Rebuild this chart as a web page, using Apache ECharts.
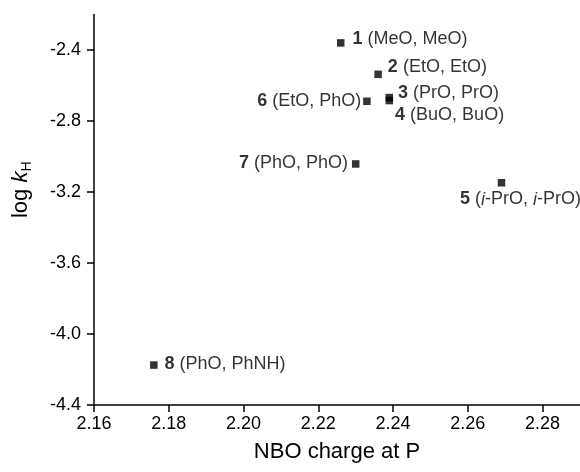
<!DOCTYPE html>
<html>
<head>
<meta charset="utf-8">
<script src="https://cdn.jsdelivr.net/npm/echarts@6/dist/echarts.min.js"></script>
<style>
  html, body { margin: 0; padding: 0; background: #fff; }
  #chart { width: 580px; height: 472px; }
</style>
</head>
<body>
<div id="chart"></div>
<script>
// compound number, substituent pair, NBO charge at P, log kH
var ids = ['1', '2', '3', '4', '5', '6', '7', '8'];
var groups = ['(MeO, MeO)', '(EtO, EtO)', '(PrO, PrO)', '(BuO, BuO)',
              '({i|i}-PrO, {i|i}-PrO)', '(EtO, PhO)', '(PhO, PhO)', '(PhO, PhNH)'];
var nboCharge = [2.226, 2.236, 2.239, 2.239, 2.269, 2.233, 2.230, 2.176];
var logKH = [-2.36, -2.537, -2.668, -2.685, -3.148, -2.689, -3.042, -4.175];

var xTicks = [2.16, 2.18, 2.20, 2.22, 2.24, 2.26, 2.28];
var yTicks = [-4.4, -4.0, -3.6, -3.2, -2.8, -2.4];

// where each label sits next to its point (side, gap, nudge)
var labelPlace = {
    '1': { position: 'right', distance: 8, dx: 0, dy: -4 },
    '2': { position: 'right', distance: 6, dx: 0, dy: -7 },
    '3': { position: 'right', distance: 5, dx: 0, dy: -5 },
    '4': { position: 'right', distance: 2, dx: 0, dy: 14 },
    '5': { position: 'bottom', distance: 4, dx: 19, dy: 0 },
    '6': { position: 'left', distance: 2, dx: 0, dy: 0 },
    '7': { position: 'left', distance: 4, dx: 0, dy: -1 },
    '8': { position: 'right', distance: 7, dx: 0, dy: -1 }
};

var font = 'Liberation Sans, Arial, sans-serif';

var points = ids.map(function (id, i) {
    var p = labelPlace[id];
    return {
        value: [nboCharge[i], logKH[i]],
        label: {
            show: true,
            position: p.position,
            distance: p.distance,
            formatter: '{b|' + id + '} ' + groups[i]
        }
    };
});

var chart = echarts.init(document.getElementById('chart'));

var option = {
    backgroundColor: '#fff',
    animation: false,
    textStyle: { fontFamily: font, color: '#000' },
    grid: { left: 94, right: 0, top: 14.5, bottom: 67 },
    xAxis: {
        type: 'value',
        min: 2.16,
        max: 2.29,
        name: 'NBO charge at P',
        nameLocation: 'middle',
        nameGap: 36,
        nameTextStyle: { fontSize: 22, color: '#000', fontFamily: font },
        axisLine: { show: true, lineStyle: { color: '#000', width: 1.5 } },
        axisTick: { show: true, length: 7, customValues: xTicks, lineStyle: { color: '#000', width: 1.5 } },
        axisLabel: {
            customValues: xTicks,
            margin: 10,
            fontSize: 18,
            color: '#000',
            formatter: function (v) { return v.toFixed(2); }
        },
        splitLine: { show: false }
    },
    yAxis: {
        type: 'value',
        min: -4.4,
        max: -2.2,
        name: 'log {k|k}{h|H}',
        nameLocation: 'middle',
        nameGap: 60,
        nameTextStyle: {
            fontSize: 22, color: '#000', fontFamily: font,
            padding: [0, 0, 0, 40],
            rich: {
                k: { fontSize: 22, fontStyle: 'italic', fontFamily: font, color: '#000', lineHeight: 26 },
                h: { fontSize: 14, fontFamily: font, color: '#000', verticalAlign: 'bottom', lineHeight: 22 }
            }
        },
        axisLine: { show: true, lineStyle: { color: '#000', width: 1.5 } },
        axisTick: { show: true, length: 7, customValues: yTicks, lineStyle: { color: '#000', width: 1.5 } },
        axisLabel: {
            customValues: yTicks,
            margin: 13,
            fontSize: 18,
            color: '#000',
            formatter: function (v) { return v.toFixed(1); }
        },
        splitLine: { show: false }
    },
    series: [
        {
            type: 'scatter',
            symbol: 'rect',
            symbolSize: 7.5,
            itemStyle: { color: '#000' },
            label: {
                fontSize: 18,
                color: '#000',
                fontFamily: font,
                rich: {
                    b: { fontSize: 18, fontWeight: 'bold', color: '#000', fontFamily: font },
                    i: { fontSize: 18, fontStyle: 'italic', color: '#000', fontFamily: font }
                }
            },
            labelLayout: function (params) {
                var p = labelPlace[ids[params.dataIndex]];
                return { dx: p.dx, dy: p.dy, hideOverlap: false };
            },
            data: points
        }
    ]
};

chart.setOption(option);
</script>
</body>
</html>
